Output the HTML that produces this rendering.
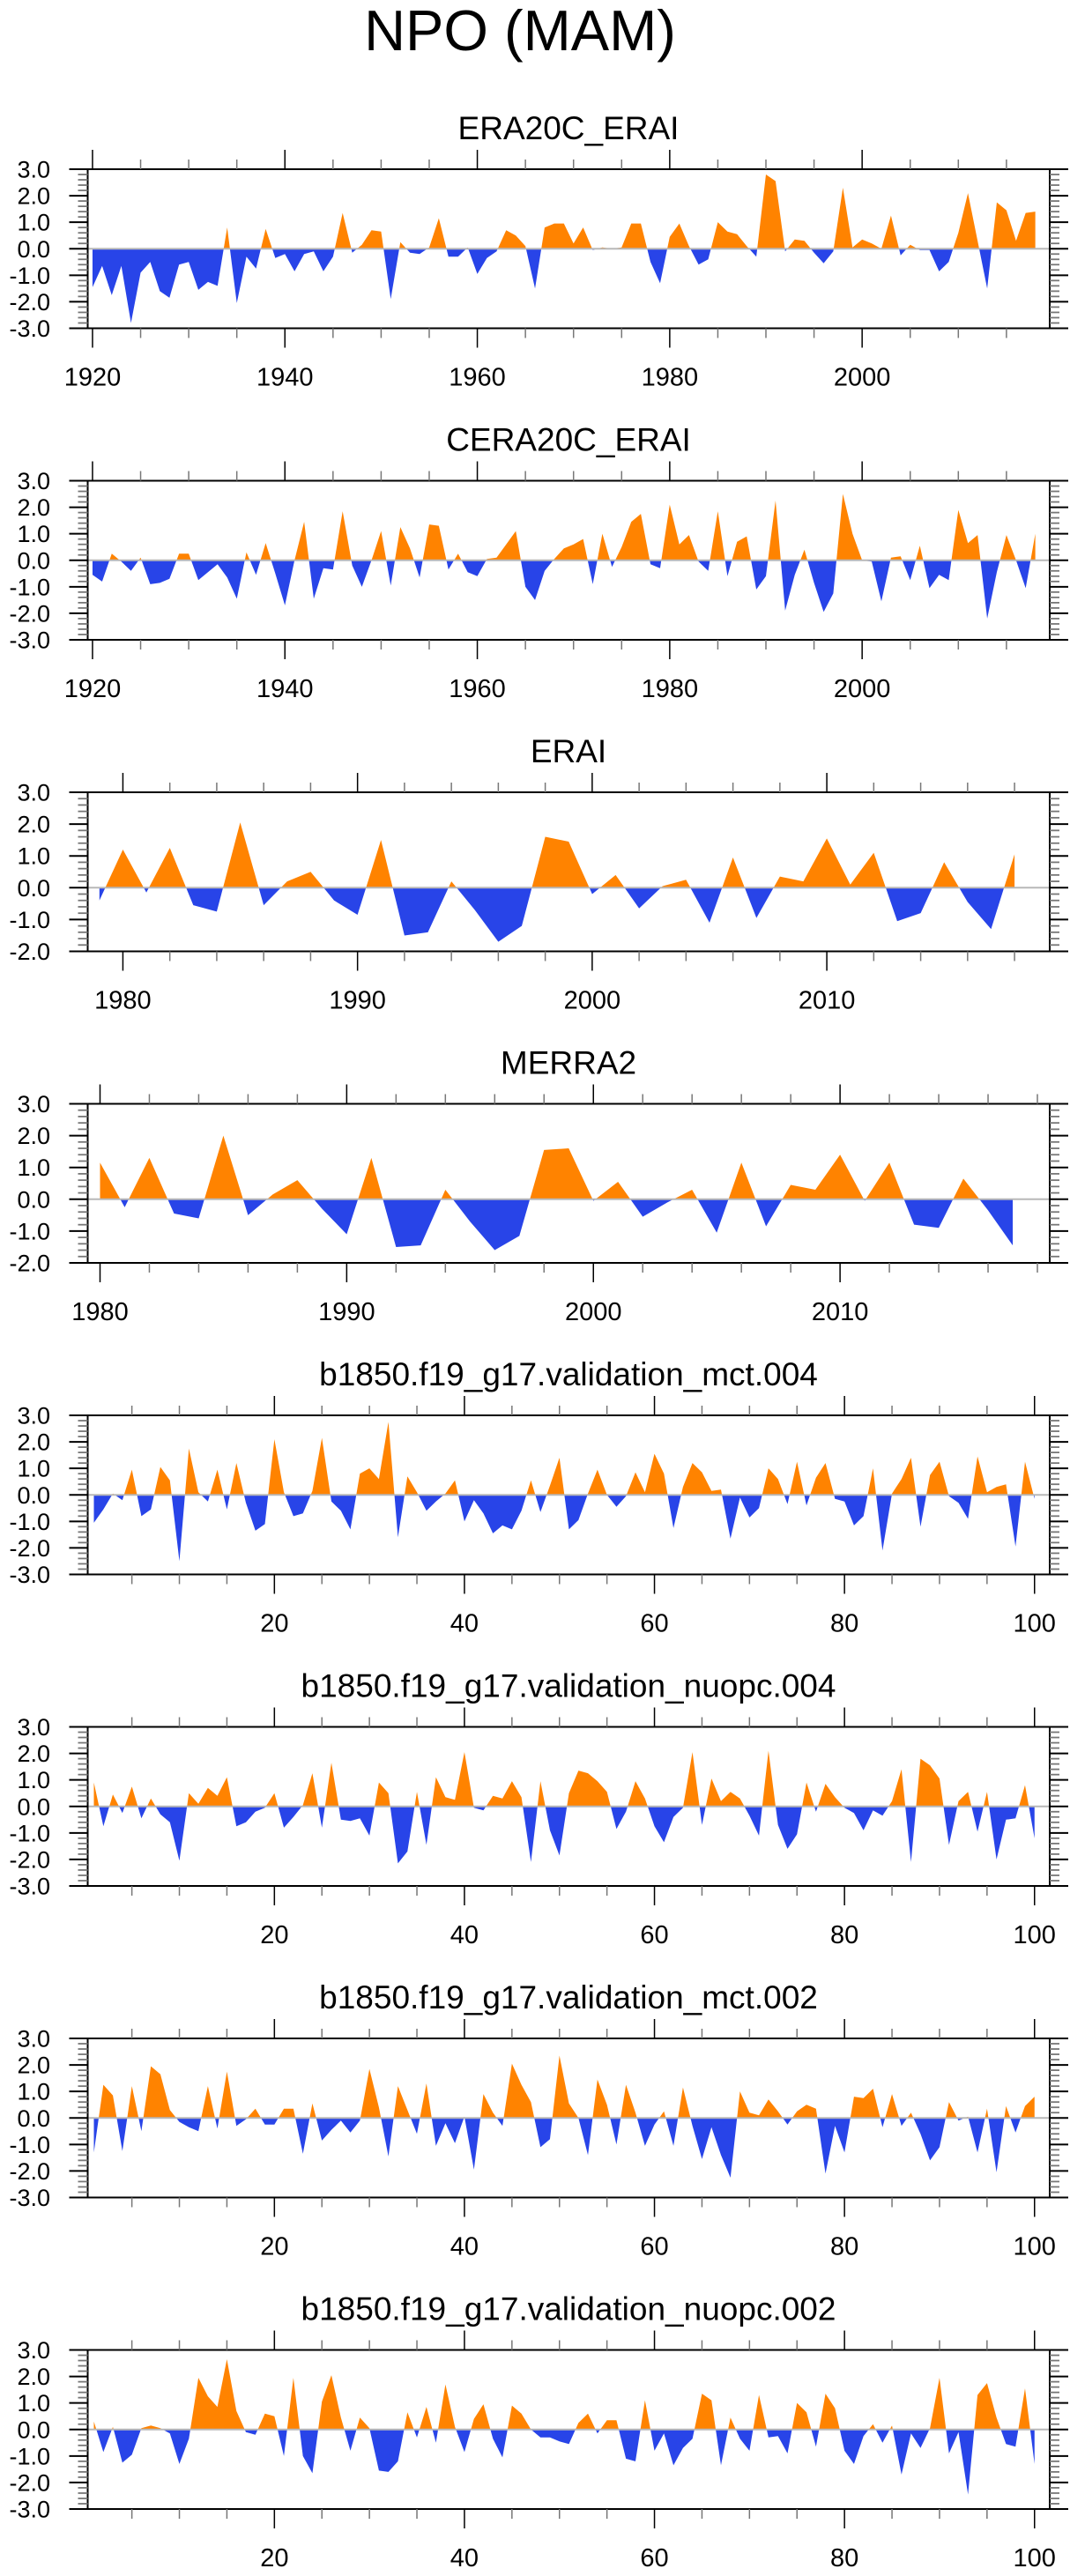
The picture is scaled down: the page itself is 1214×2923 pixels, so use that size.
<!DOCTYPE html>
<html><head><meta charset="utf-8">
<style>
html,body{margin:0;padding:0;background:#fff;}
svg{display:block;font-family:"Liberation Sans",Arial,sans-serif;}
</style></head>
<body>
<svg id="chart" width="1214" height="2923" viewBox="0 0 1214 2923" xmlns="http://www.w3.org/2000/svg">
<rect width="1214" height="2923" fill="#fff"/>
<text x="590" y="57" font-size="65" text-anchor="middle" fill="#000">NPO (MAM)</text>
</svg>
<script>
// ---- data ----
const era20cStart = 1920;
const era20cValues = [-1.45,-0.65,-1.75,-0.65,-2.8,-0.9,-0.5,-1.6,-1.85,-0.6,-0.5,-1.55,-1.25,-1.4,0.8,-2.05,-0.3,-0.75,0.75,-0.35,-0.2,-0.85,-0.2,-0.1,-0.85,-0.3,1.35,-0.15,0.15,0.7,0.65,-1.9,0.25,-0.15,-0.2,0.05,1.15,-0.3,-0.3,0.05,-0.95,-0.35,-0.1,0.7,0.5,0.1,-1.5,0.8,0.95,0.95,0.2,0.8,-0.05,0.05,0.0,0.05,0.95,0.95,-0.5,-1.3,0.45,0.95,0.1,-0.6,-0.4,1.0,0.65,0.55,0.1,-0.3,2.8,2.55,-0.1,0.35,0.3,-0.15,-0.55,-0.1,2.3,0.05,0.35,0.2,0.0,1.25,-0.25,0.15,-0.05,-0.05,-0.85,-0.5,0.6,2.1,0.3,-1.5,1.75,1.45,0.3,1.35,1.4];
const cera20cStart = 1920;
const cera20cValues = [-0.55,-0.8,0.25,-0.05,-0.4,0.1,-0.9,-0.85,-0.7,0.25,0.25,-0.75,-0.45,-0.15,-0.65,-1.45,0.3,-0.55,0.65,-0.5,-1.7,0.0,1.45,-1.45,-0.3,-0.35,1.85,-0.2,-1.0,0.0,1.1,-0.95,1.25,0.45,-0.65,1.35,1.3,-0.35,0.25,-0.45,-0.6,0.05,0.1,0.6,1.1,-1.0,-1.5,-0.4,0.05,0.45,0.6,0.8,-0.9,1.0,-0.25,0.5,1.45,1.75,-0.15,-0.3,2.1,0.6,0.95,-0.05,-0.4,1.85,-0.6,0.7,0.9,-1.1,-0.6,2.25,-1.9,-0.55,0.4,-0.85,-1.95,-1.25,2.5,1.0,0.0,-0.05,-1.55,0.1,0.15,-0.75,0.55,-1.05,-0.55,-0.75,1.9,0.65,0.95,-2.2,-0.45,0.95,0.0,-1.05,1.0];
const eraiStart = 1979;
const eraiValues = [-0.4,1.2,-0.15,1.25,-0.55,-0.75,2.05,-0.55,0.2,0.5,-0.4,-0.85,1.5,-1.5,-1.4,0.2,-0.7,-1.7,-1.2,1.6,1.45,-0.2,0.4,-0.65,0.05,0.25,-1.1,0.95,-0.95,0.35,0.2,1.55,0.1,1.1,-1.05,-0.8,0.8,-0.45,-1.3,1.05];
const merra2Start = 1980;
const merra2Values = [1.15,-0.25,1.3,-0.45,-0.6,2.0,-0.5,0.15,0.6,-0.3,-1.1,1.3,-1.5,-1.45,0.3,-0.7,-1.6,-1.15,1.55,1.6,-0.05,0.55,-0.55,-0.1,0.3,-1.05,1.15,-0.85,0.45,0.3,1.4,-0.05,1.15,-0.8,-0.9,0.65,-0.35,-1.45];
const mct004Values = [-1.05,-0.55,0.05,-0.2,0.95,-0.8,-0.55,1.05,0.55,-2.5,1.75,0.1,-0.25,0.95,-0.55,1.2,-0.3,-1.35,-1.1,2.1,0.1,-0.8,-0.7,0.15,2.15,-0.25,-0.6,-1.3,0.8,1.0,0.6,2.75,-1.6,0.7,0.1,-0.6,-0.25,0.05,0.55,-1.0,-0.2,-0.7,-1.45,-1.15,-1.3,-0.6,0.55,-0.65,0.35,1.4,-1.3,-0.95,0.05,0.95,0.0,-0.45,-0.05,0.85,0.1,1.55,0.8,-1.25,0.3,1.2,0.85,0.15,0.2,-1.65,-0.1,-0.85,-0.5,1.0,0.6,-0.35,1.25,-0.4,0.65,1.2,-0.15,-0.25,-1.15,-0.8,1.0,-2.1,0.05,0.6,1.4,-1.2,0.75,1.25,-0.05,-0.3,-0.9,1.45,0.1,0.3,0.4,-1.95,1.25,-0.15];
const nuopc004Values = [0.9,-0.75,0.45,-0.25,0.75,-0.45,0.3,-0.3,-0.6,-2.05,0.5,0.1,0.7,0.4,1.1,-0.75,-0.6,-0.2,-0.05,0.5,-0.8,-0.4,0.05,1.25,-0.8,1.65,-0.5,-0.55,-0.45,-1.1,0.9,0.5,-2.15,-1.7,0.55,-1.45,1.1,0.35,0.25,2.05,-0.05,-0.15,0.4,0.3,0.95,0.35,-2.1,0.95,-0.9,-1.85,0.5,1.35,1.25,0.95,0.55,-0.85,-0.2,0.95,0.3,-0.75,-1.35,-0.4,-0.05,2.05,-0.7,1.05,0.2,0.55,0.3,-0.35,-1.1,2.1,-0.7,-1.6,-1.05,0.9,-0.2,0.85,0.35,-0.05,-0.25,-0.9,-0.15,-0.35,0.2,1.4,-2.1,1.8,1.55,1.05,-1.45,0.2,0.55,-0.95,0.55,-2.0,-0.5,-0.45,0.8,-1.2];
const mct002Values = [-1.3,1.25,0.85,-1.25,1.2,-0.5,1.95,1.65,0.3,-0.15,-0.35,-0.5,1.2,-0.4,1.75,-0.3,-0.05,0.35,-0.25,-0.25,0.35,0.35,-1.35,0.55,-0.85,-0.45,-0.1,-0.55,-0.1,1.85,0.4,-1.45,1.2,0.3,-0.6,1.3,-1.05,-0.2,-0.95,0.05,-1.95,0.9,0.2,-0.3,2.05,1.25,0.6,-1.1,-0.8,2.35,0.55,0.0,-1.4,1.45,0.5,-1.0,1.25,0.2,-1.05,-0.25,0.25,-1.05,1.15,-0.3,-1.55,-0.35,-1.4,-2.25,1.0,0.2,0.1,0.7,0.25,-0.25,0.25,0.5,0.35,-2.1,-0.3,-1.3,0.8,0.75,1.1,-0.35,0.9,-0.3,0.2,-0.6,-1.6,-1.1,0.6,-0.1,0.05,-1.3,0.35,-2.05,0.45,-0.55,0.45,0.8];
const nuopc002Values = [0.3,-0.85,0.1,-1.25,-0.95,0.05,0.15,0.05,-0.15,-1.3,-0.35,1.95,1.25,0.85,2.65,0.7,-0.1,-0.2,0.6,0.5,-1.0,1.95,-1.0,-1.65,1.05,2.05,0.45,-0.8,0.45,0.05,-1.55,-1.6,-1.2,0.65,-0.3,0.85,-0.5,1.7,0.1,-0.85,0.4,0.95,-0.35,-1.05,0.9,0.6,0.0,-0.3,-0.3,-0.45,-0.55,0.25,0.6,-0.15,0.35,0.35,-1.1,-1.2,1.1,-0.8,-0.15,-1.35,-0.7,-0.35,1.35,1.1,-1.35,0.45,-0.35,-0.8,1.3,-0.3,-0.25,-0.9,1.0,0.65,-0.65,1.35,0.8,-0.8,-1.3,-0.25,0.2,-0.5,0.15,-1.7,-0.15,-0.7,0.05,1.95,-0.9,-0.1,-2.45,1.3,1.75,0.45,-0.55,-0.65,1.55,-1.3];
const yTicks3 = [-3,-2,-1,0,1,2,3];
const yTicks2 = [-2,-1,0,1,2,3];
const yearTickLabels = [1920,1940,1960,1980,2000];
const eraiTickLabels = [1980,1990,2000,2010];
const modelTickLabels = [20,40,60,80,100];

const panels = [
 {title:'ERA20C_ERAI', start:era20cStart, vals:era20cValues, xmin:1919.5, xmax:2019.5, ymin:-3, ymax:3, yt:yTicks3, xt:yearTickLabels, minor:5, slug:'era20c-erai'},
 {title:'CERA20C_ERAI', start:cera20cStart, vals:cera20cValues, xmin:1919.5, xmax:2019.5, ymin:-3, ymax:3, yt:yTicks3, xt:yearTickLabels, minor:5, slug:'cera20c-erai'},
 {title:'ERAI', start:eraiStart, vals:eraiValues, xmin:1978.5, xmax:2019.5, ymin:-2, ymax:3, yt:yTicks2, xt:eraiTickLabels, minor:2, slug:'erai'},
 {title:'MERRA2', start:merra2Start, vals:merra2Values, xmin:1979.5, xmax:2018.5, ymin:-2, ymax:3, yt:yTicks2, xt:eraiTickLabels, minor:2, slug:'merra2'},
 {title:'b1850.f19_g17.validation_mct.004', start:1, vals:mct004Values, xmin:0.35, xmax:101.6, ymin:-3, ymax:3, yt:yTicks3, xt:modelTickLabels, minor:5, slug:'mct-004'},
 {title:'b1850.f19_g17.validation_nuopc.004', start:1, vals:nuopc004Values, xmin:0.35, xmax:101.6, ymin:-3, ymax:3, yt:yTicks3, xt:modelTickLabels, minor:5, slug:'nuopc-004'},
 {title:'b1850.f19_g17.validation_mct.002', start:1, vals:mct002Values, xmin:0.35, xmax:101.6, ymin:-3, ymax:3, yt:yTicks3, xt:modelTickLabels, minor:5, slug:'mct-002'},
 {title:'b1850.f19_g17.validation_nuopc.002', start:1, vals:nuopc002Values, xmin:0.35, xmax:101.6, ymin:-3, ymax:3, yt:yTicks3, xt:modelTickLabels, minor:5, slug:'nuopc-002'}
];

const NS='http://www.w3.org/2000/svg';
const svg=document.getElementById('chart');
function el(tag, attrs, parent){
  const e=document.createElementNS(NS,tag);
  for(const k in attrs) e.setAttribute(k,attrs[k]);
  (parent||svg).appendChild(e);
  return e;
}
const L=99.5, R=1191, H=180.5;

panels.forEach((p,pi)=>{
  const top=192+pi*353.5, bot=top+H;
  const g=el('g',{});
  
  
  const xs=v=>L+(v-p.xmin)/(p.xmax-p.xmin)*(R-L);
  const ys=v=>bot-(v-p.ymin)/(p.ymax-p.ymin)*H;
  const y0=ys(0);
  // title
  const t=el('text',{x:645,y:top-34,'font-size':37,'text-anchor':'middle',fill:'#000'},g);
  t.textContent=p.title;
  
  
  // clips
  const cu=el('clipPath',{id:'cu'+pi},g); el('rect',{x:L,y:top,width:R-L,height:y0-top},cu);
  const cd=el('clipPath',{id:'cd'+pi},g); el('rect',{x:L,y:y0,width:R-L,height:bot-y0},cd);
  let pts=[];
  pts.push(xs(p.start).toFixed(2)+','+y0.toFixed(2));
  p.vals.forEach((v,i)=>{pts.push(xs(p.start+i).toFixed(2)+','+ys(v).toFixed(2));});
  pts.push(xs(p.start+p.vals.length-1).toFixed(2)+','+y0.toFixed(2));
  const ptsStr=pts.join(' ');
  const pu=el('polygon',{points:ptsStr,fill:'#ff8300','clip-path':'url(#cu'+pi+')'},g);
  
  
  const pd=el('polygon',{points:ptsStr,fill:'#2844e8','clip-path':'url(#cd'+pi+')'},g);
  
  
  // zero line
  const zl=el('line',{x1:L,x2:R,y1:y0,y2:y0,stroke:'#b8b8b8','stroke-width':2},g);
  
  
  // box
  const bx=el('rect',{x:L,y:top,width:R-L,height:H,fill:'none',stroke:'#000','stroke-width':2},g);
  
  
  // y ticks
  for(let v=p.ymin; v<=p.ymax+1e-6; v+=0.2){
    const yy=ys(v);
    const major=Math.abs(v-Math.round(v))<1e-6;
    const len=major?21:11;
    el('line',{x1:L-len,x2:L,y1:yy,y2:yy,stroke:major?'#000':'#777','stroke-width':major?2:1.8},g);
    el('line',{x1:R,x2:R+len,y1:yy,y2:yy,stroke:major?'#000':'#777','stroke-width':major?2:1.8},g);
  }
  p.yt.forEach(v=>{
    const tx=el('text',{x:57,y:ys(v)+9.5,'font-size':27,'text-anchor':'end',fill:'#000'},g);
    tx.textContent=v.toFixed(1);
    
    
  });
  // x ticks
  const majorStep=p.xt.length>1?(p.xt[1]-p.xt[0]):10;
  const first=Math.ceil(p.xmin/p.minor)*p.minor;
  for(let v=first; v<=p.xmax; v+=p.minor){
    const xx=xs(v);
    const major=(v%majorStep)===0;
    const len=major?22:11;
    el('line',{x1:xx,x2:xx,y1:bot,y2:bot+len,stroke:major?'#000':'#777','stroke-width':major?1.5:1.5},g);
    el('line',{x1:xx,x2:xx,y1:top-len,y2:top,stroke:major?'#000':'#777','stroke-width':major?1.5:1.5},g);
  }
  p.xt.forEach(v=>{
    const tx=el('text',{x:xs(v),y:bot+65,'font-size':29,'text-anchor':'middle',fill:'#000'},g);
    tx.textContent=String(v);
    
    
  });
});
</script>
</body></html>
